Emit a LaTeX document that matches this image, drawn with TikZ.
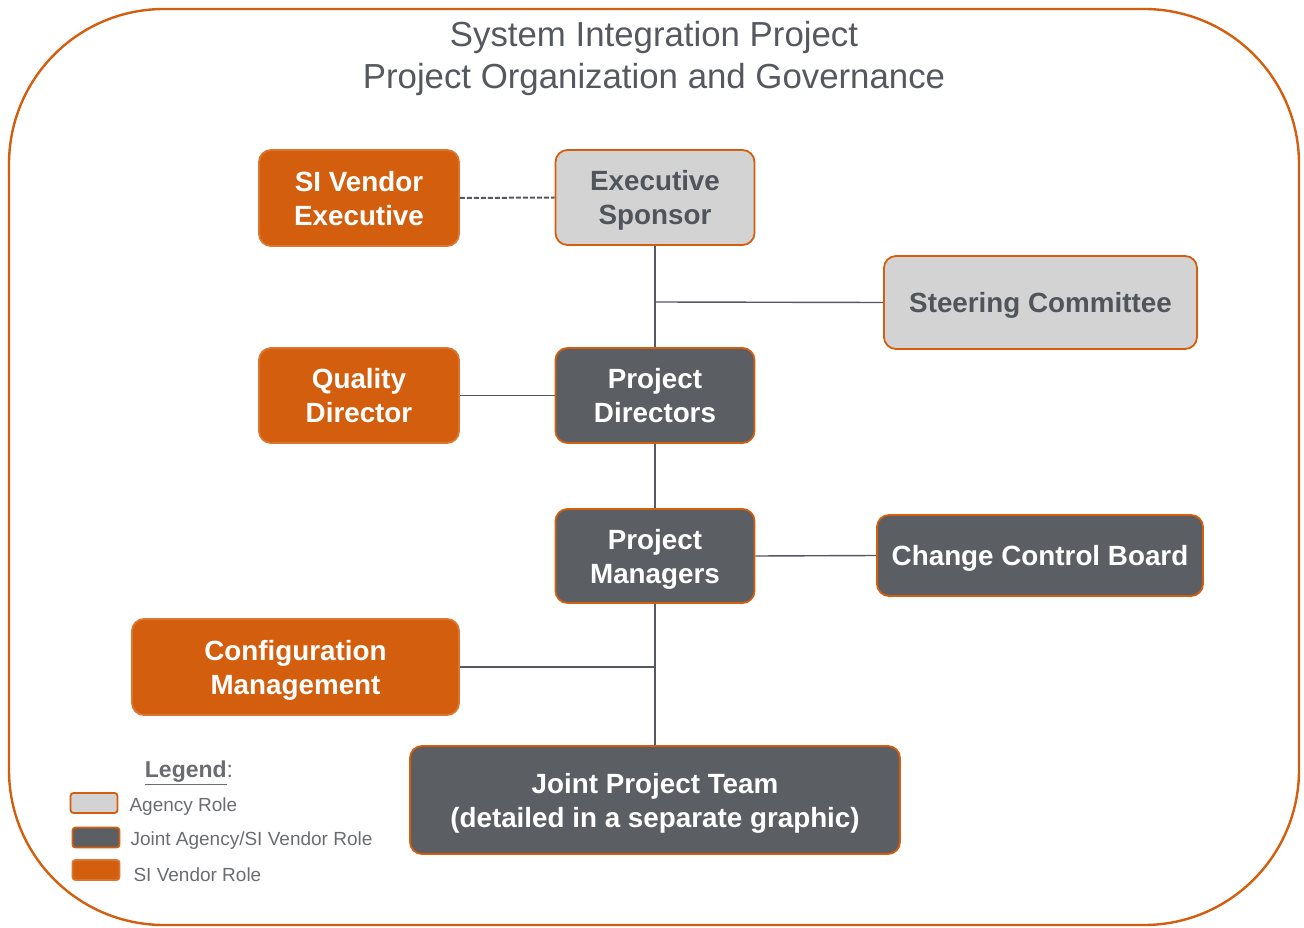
\documentclass[tikz,border=0pt]{standalone}
\usepackage{fontspec}
\setmainfont{Liberation Sans}
\begin{document}
\begin{tikzpicture}[x=1pt,y=-1pt,
  box/.style={rounded corners=12pt, line width=1.8pt, draw=siorange, align=center,
    inner sep=0pt, text depth=0pt, font=\fontsize{27.8}{34}\selectfont\bfseries},
  agency/.style={box, fill=agencygray, text=textgray},
  joint/.style={box, fill=jointgray, text=white},
  vendor/.style={box, fill=siorange, draw=siorange!85!white, text=white},
  link/.style={draw=linegray, line width=1.4pt},
  swatch/.style={rounded corners=3pt, line width=1.8pt, inner sep=0pt,
    minimum width=47pt, minimum height=20pt},
  legtext/.style={anchor=west, text=legendgray, font=\fontsize{19}{22}\selectfont}
]
\definecolor{siorange}{HTML}{D35E0E}
\definecolor{agencygray}{HTML}{D3D3D3}
\definecolor{jointgray}{HTML}{5B5E63}
\definecolor{textgray}{HTML}{50545B}
\definecolor{linegray}{HTML}{555860}
\definecolor{legendgray}{HTML}{6A6C70}
\definecolor{titlegray}{HTML}{55585E}

\useasboundingbox (0,0) rectangle (1304,928);

% outer frame
\draw[siorange, line width=2.4pt, rounded corners=155pt] (9,9) rectangle (1299,925);

% title
\node[text=titlegray, align=center, font=\fontsize{34.8}{42}\selectfont] (title) at (654,59)
  {System Integration Project\\Project Organization and Governance};

% role boxes
\node[vendor, minimum width=200pt, minimum height=96pt] (sive) at (359,198) {SI Vendor\\Executive};
\node[agency, minimum width=199pt, minimum height=95pt] (exec) at (655,197.5) {Executive\\Sponsor};
\node[agency, minimum width=313pt, minimum height=93pt] (steer) at (1040.5,302.5) {Steering Committee};
\node[vendor, minimum width=200pt, minimum height=95pt] (qual) at (359,395.5) {Quality\\Director};
\node[joint, minimum width=199pt, minimum height=95pt] (pdir) at (655,395.5) {Project\\Directors};
\node[joint, minimum width=199pt, minimum height=94pt] (pman) at (655,556) {Project\\Managers};
\node[joint, minimum width=326pt, minimum height=81pt] (ccb) at (1040,555.5) {Change Control Board};
\node[vendor, minimum width=327pt, minimum height=96pt] (conf) at (295.5,667) {Configuration\\Management};
\node[joint, minimum width=490pt, minimum height=108pt] (jpt) at (655,800) {Joint Project Team\\(detailed in a separate graphic)};

% connectors
\coordinate (steerjoin) at (655,302);
\coordinate (confjoin) at (655,667);
\draw[link, line width=2pt, dashed, dash pattern=on 5pt off 2pt] (sive.east) -- (exec.west);
\draw[link] (exec.south) -- (pdir.north);
\draw[link] (steerjoin) -- (steer.west);
\draw[link] (qual.east) -- (pdir.west);
\draw[link] (pdir.south) -- (pman.north);
\draw[link] (pman.east) -- (ccb.west);
\draw[link] (pman.south) -- (jpt.north);
\draw[link] (conf.east) -- (confjoin);

% legend
\node[text=legendgray, font=\fontsize{23}{26}\selectfont\bfseries] (leghead) at (189,773)
  {\underline{Legend}\mdseries:};
\node[swatch, fill=agencygray, draw=siorange] (swa) at (94,803) {};
\node[swatch, fill=jointgray, draw=siorange] (swj) at (96,837.5) {};
\node[swatch, fill=siorange, draw=siorange!85!white] (sws) at (96,870) {};
\node[legtext] (la) at (126,807) {Agency Role};
\node[legtext] (lj) at (127,841) {Joint Agency/SI Vendor Role};
\node[legtext] (ls) at (130,875) {SI Vendor Role};
\end{tikzpicture}
\end{document}
